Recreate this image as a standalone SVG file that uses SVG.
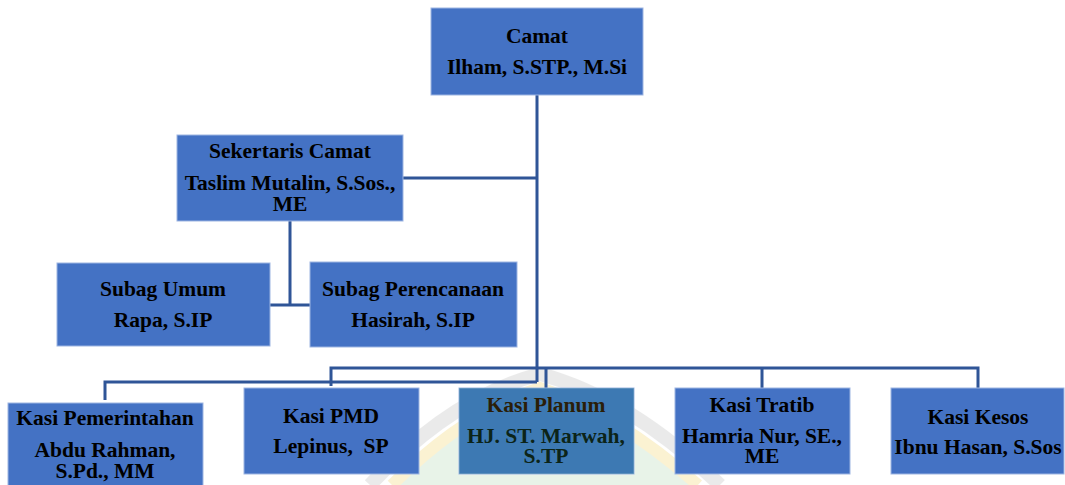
<svg xmlns="http://www.w3.org/2000/svg" width="1065" height="485" viewBox="0 0 1065 485">
<style>
.box{fill:#4472C4;stroke:#9DB5E2;stroke-width:1}
.t{font-family:"Liberation Serif","Times New Roman",serif;font-weight:bold;font-size:21.5px;fill:#000;text-anchor:middle;white-space:pre}
.c{fill:none;stroke:#2F5597;stroke-width:3}
</style>
<rect width="1065" height="485" fill="#fff"/>
<g id="watermark" opacity="0.25">
<path d="M400 485 Q470 410 540 388 Q610 410 690 485 Z" fill="#A8D0A8"/>
<path d="M370 485 Q450 398 540 374 Q630 398 720 485" fill="none" stroke="#B0B0B0" stroke-width="14"/>
<path d="M392 485 Q465 412 540 388 Q615 412 698 485" fill="none" stroke="#F0CC50" stroke-width="12"/>
</g>
<g id="connectors">
<path class="c" d="M537 95 V382"/>
<path class="c" d="M403 178 H537"/>
<path class="c" d="M290 221 V305 M270 305 H310"/>
<path class="c" d="M105 400 V382 H537"/>
<path class="c" d="M331 386 V368 H978 V388"/>
<path class="c" d="M546 368 V388"/>
<path class="c" d="M762 368 V388"/>
</g>
<g id="camat"><rect class="box" x="431" y="8" width="212" height="87"/>
<text class="t" x="537" y="43">Camat</text><text class="t" x="537" y="74">Ilham, S.STP., M.Si</text></g>
<g id="sekertaris"><rect class="box" x="177" y="135" width="226" height="86"/>
<text class="t" x="290" y="158">Sekertaris Camat</text><text class="t" x="290" y="190">Taslim Mutalin, S.Sos.,</text><text class="t" x="290" y="211">ME</text></g>
<g id="subag-umum"><rect class="box" x="57" y="263" width="213" height="83"/>
<text class="t" x="163" y="296">Subag Umum</text><text class="t" x="163" y="327">Rapa, S.IP</text></g>
<g id="subag-perencanaan"><rect class="box" x="310" y="262" width="207" height="85"/>
<text class="t" x="413" y="296">Subag Perencanaan</text><text class="t" x="413" y="327">Hasirah, S.IP</text></g>
<g id="kasi-pemerintahan"><rect class="box" x="8" y="403" width="195" height="90"/>
<text class="t" x="105" y="425">Kasi Pemerintahan</text><text class="t" x="105" y="457">Abdu Rahman,</text><text class="t" x="105" y="478">S.Pd., MM</text></g>
<g id="kasi-pmd"><rect class="box" x="244" y="388" width="175" height="86"/>
<text class="t" x="331" y="423">Kasi PMD</text><text class="t" x="331" y="453" xml:space="preserve">Lepinus,  SP</text></g>
<g id="kasi-planum"><rect class="box" x="459" y="388" width="175" height="86"/>
<rect x="459" y="388" width="175" height="86" fill="#2E8A8A" opacity="0.3"/>
<text class="t" x="546" y="412" style="fill:#2A1E08">Kasi Planum</text><text class="t" x="546" y="443" style="fill:#0C2418">HJ. ST. Marwah,</text><text class="t" x="546" y="463" style="fill:#0C2418">S.TP</text></g>
<g id="kasi-tratib"><rect class="box" x="675" y="388" width="175" height="86"/>
<text class="t" x="762" y="412">Kasi Tratib</text><text class="t" x="762" y="443">Hamria Nur, SE.,</text><text class="t" x="762" y="463">ME</text></g>
<g id="kasi-kesos"><rect class="box" x="891" y="388" width="173" height="86"/>
<text class="t" x="978" y="424">Kasi Kesos</text><text class="t" x="978" y="454">Ibnu Hasan, S.Sos</text></g>
</svg>
